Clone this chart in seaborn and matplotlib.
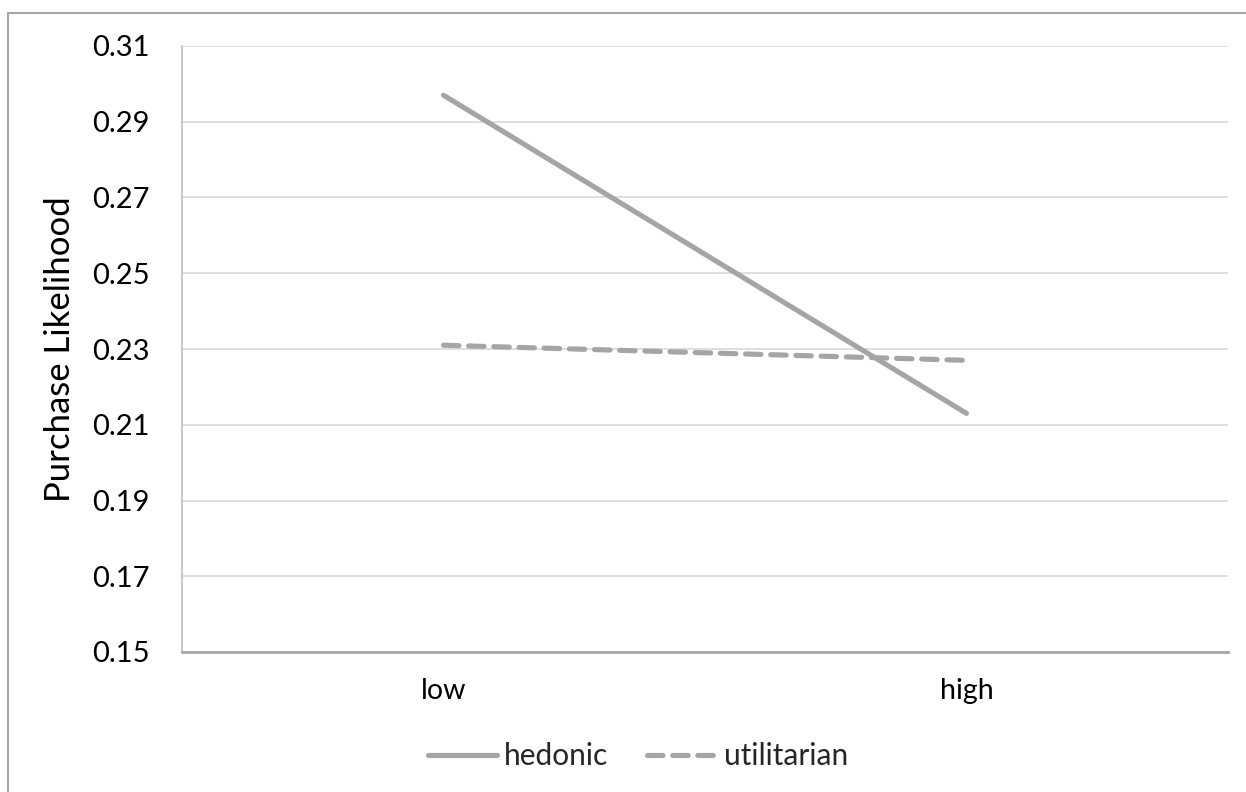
import matplotlib
matplotlib.use("Agg")
import matplotlib.pyplot as plt
from matplotlib.patches import Rectangle
from matplotlib.lines import Line2D
import seaborn as sns
import pandas as pd

# Data
levels = ["low", "high"]
hedonic = [0.297, 0.213]
utilitarian = [0.231, 0.227]
series_names = ["hedonic", "utilitarian"]
y_ticks = [0.15, 0.17, 0.19, 0.21, 0.23, 0.25, 0.27, 0.29, 0.31]

df = pd.DataFrame({
    "level": levels * 2,
    "likelihood": hedonic + utilitarian,
    "type": [series_names[0]] * len(levels) + [series_names[1]] * len(levels),
})

sns.set_theme(style="white")
plt.rcParams["font.family"] = ["Lato", "DejaVu Sans"]

fig = plt.figure(figsize=(12.46, 7.92), dpi=100)
ax = fig.add_axes([182 / 1246, 1 - 652 / 792, (1228 - 182) / 1246, (652 - 46) / 792])

line_color = "#A5A5A5"
dash_pattern = (3.0, 1.9)
sns.lineplot(
    data=df, x="level", y="likelihood", hue="type", style="type",
    palette=[line_color, line_color],
    dashes={"hedonic": "", "utilitarian": dash_pattern},
    linewidth=3.7, ax=ax, legend=False, sort=False,
)
for ln in ax.get_lines():
    ln.set_solid_capstyle("round")
    ln.set_dash_capstyle("round")

ax.set_xlim(-0.5, 1.5)
ax.set_ylim(0.15, 0.31)
ax.set_yticks(y_ticks)
ax.set_yticklabels([f"{v:.2f}" for v in y_ticks])
ax.yaxis.grid(True, color="#D9D9D9", linewidth=1.2)
ax.xaxis.grid(False)
ax.tick_params(axis="y", length=0, pad=23, labelsize=21, labelcolor="#000000")
ax.tick_params(axis="x", length=0, pad=19, labelsize=20.5, labelcolor="#000000")
ax.set_xlabel("")
ax.set_ylabel("Purchase Likelihood", fontsize=25, color="#000000", labelpad=12)

for side in ["top", "right"]:
    ax.spines[side].set_visible(False)
ax.spines["left"].set_color("#BFBFBF")
ax.spines["left"].set_linewidth(1.2)
ax.spines["bottom"].set_color("#A6A6A6")
ax.spines["bottom"].set_linewidth(2.0)

# Legend below the plot
handles = [
    Line2D([], [], color=line_color, linewidth=3.7, solid_capstyle="round"),
    Line2D([], [], color=line_color, linewidth=3.7, dashes=dash_pattern, dash_capstyle="round"),
]
fig.legend(handles, series_names, loc="center", bbox_to_anchor=(0.512, 1 - 756 / 792),
           ncol=2, frameon=False, fontsize=21.5, handlelength=2.3, handletextpad=0.25,
           columnspacing=1.3)

# Chart area border
fig.patches.append(Rectangle((8 / 1246, -0.1), 2.0, 1 - 13 / 792 + 0.1,
                             transform=fig.transFigure, fill=False,
                             edgecolor="#A6A6A6", linewidth=1.5, clip_on=False))

fig.savefig("out.png", dpi=100)
